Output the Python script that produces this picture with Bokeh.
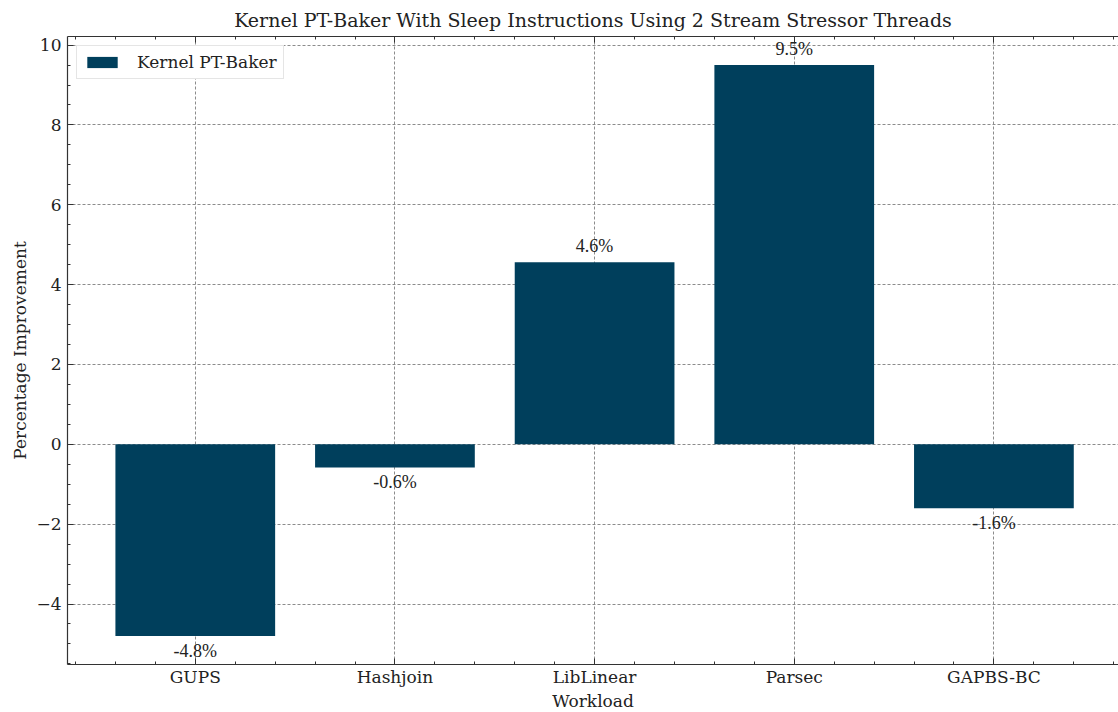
from bokeh.plotting import figure
from bokeh.models import (ColumnDataSource, LabelSet, Range1d, FixedTicker,
                          LinearAxis, Legend, LegendItem, CustomJSTickFormatter)
from bokeh.embed import file_html
from bokeh.resources import INLINE
import numpy as np

# Workloads and measured improvement (%) of Kernel PT-Baker
workloads = ["GUPS", "Hashjoin", "LibLinear", "Parsec", "GAPBS-BC"]
improvement = [-4.8, -0.58, 4.56, 9.5, -1.6]
series_name = "Kernel PT-Baker"
y_ticks = [-4, -2, 0, 2, 4, 6, 8, 10]

FONT = "DejaVu Serif"
BAR_COLOR = "#003f5c"
GRID_COLOR = "#8c8c8c"
TEXT_COLOR = "#222222"
FS = "17px"

xs = list(range(len(workloads)))
labels = [f"{v:.1f}%" for v in improvement]

ymin, ymax = min(improvement), max(improvement)
pad = 0.05 * (ymax - ymin)

p = figure(frame_width=1051, frame_height=628, output_backend="svg", toolbar_location=None,
           x_range=Range1d(-0.64, 4.624), y_range=Range1d(ymin - pad, ymax + pad),
           x_axis_location=None, y_axis_location=None,
           min_border_left=67, min_border_right=0, min_border_top=36,
           min_border_bottom=48)
p.outline_line_color = None
p.background_fill_color = "white"

p.title.text = "Kernel PT-Baker With Sleep Instructions Using 2 Stream Stressor Threads"
p.title.align = "center"
p.title.text_font = FONT
p.title.text_font_style = "normal"
p.title.text_font_size = "19px"
p.title.text_color = TEXT_COLOR
p.title.offset = 0
p.title.standoff = 12

minor_x = [round(v, 2) for v in np.arange(-0.6, 4.61, 0.2)]
minor_y = [round(v, 2) for v in np.arange(-5.5, 10.01, 0.5)]
x_ticker = FixedTicker(ticks=xs, minor_ticks=minor_x)
y_ticker = FixedTicker(ticks=y_ticks, minor_ticks=minor_y)

minus_fmt = CustomJSTickFormatter(code="return tick < 0 ? '\u2212' + Math.abs(tick) : String(tick);")


def style_axis(ax):
    ax.axis_line_color = "#333333"
    ax.axis_line_width = 1.2
    ax.major_tick_in = 6
    ax.major_tick_out = 0
    ax.minor_tick_in = 3
    ax.minor_tick_out = 0
    ax.major_tick_line_color = "#333333"
    ax.minor_tick_line_color = "#333333"
    ax.major_label_text_font = FONT
    ax.major_label_text_font_size = FS
    ax.major_label_text_color = TEXT_COLOR
    ax.axis_label_text_font = FONT
    ax.axis_label_text_font_size = FS
    ax.axis_label_text_font_style = "normal"
    ax.axis_label_text_color = TEXT_COLOR


xaxis = LinearAxis(ticker=x_ticker, axis_label="Workload",
                   major_label_overrides={i: w for i, w in zip(xs, workloads)})
style_axis(xaxis)
xaxis.major_label_standoff = 2
xaxis.axis_label_standoff = 1
p.add_layout(xaxis, "below")

yaxis = LinearAxis(ticker=y_ticker, axis_label="Percentage Improvement", formatter=minus_fmt)
style_axis(yaxis)
yaxis.major_label_standoff = 6
yaxis.axis_label_standoff = 3
p.add_layout(yaxis, "left")

top_axis = LinearAxis(ticker=x_ticker, major_label_overrides={i: "" for i in xs})
style_axis(top_axis)
top_axis.major_label_text_font_size = "0px"
top_axis.major_label_standoff = 0
p.add_layout(top_axis, "above")

p.xgrid.ticker = x_ticker
p.ygrid.ticker = y_ticker
for g in (p.xgrid, p.ygrid):
    g.grid_line_color = GRID_COLOR
    g.grid_line_dash = "3 2"
    g.grid_line_width = 1

src = ColumnDataSource(dict(x=xs, top=improvement, label=labels))
bars = p.vbar(x="x", top="top", bottom=0, width=0.8, source=src,
              fill_color=BAR_COLOR, line_color=None)

# value labels: above positive bars, below negative ones
pos = [i for i, v in enumerate(improvement) if v >= 0]
neg = [i for i, v in enumerate(improvement) if v < 0]
pos_src = ColumnDataSource(dict(x=[xs[i] for i in pos], y=[improvement[i] for i in pos],
                                label=[labels[i] for i in pos]))
neg_src = ColumnDataSource(dict(x=[xs[i] for i in neg], y=[improvement[i] for i in neg],
                                label=[labels[i] for i in neg]))
p.add_layout(LabelSet(x="x", y="y", text="label", source=pos_src, text_align="center",
                      text_baseline="alphabetic", y_offset=10, text_font=FONT,
                      text_font_size="18px", text_color=TEXT_COLOR))
p.add_layout(LabelSet(x="x", y="y", text="label", source=neg_src, text_align="center",
                      text_baseline="top", y_offset=-5, text_font=FONT,
                      text_font_size="18px", text_color=TEXT_COLOR))

legend = Legend(items=[LegendItem(label=series_name, renderers=[bars])],
                location="top_left", margin=9, padding=6, spacing=0,
                glyph_width=38, glyph_height=14, label_standoff=16,
                label_text_font=FONT, label_text_font_size=FS,
                label_text_color=TEXT_COLOR,
                border_line_color="#cccccc", border_line_width=1.5,
                background_fill_alpha=1.0)
p.add_layout(legend)

open("out.html", "w").write(file_html(p, INLINE))
